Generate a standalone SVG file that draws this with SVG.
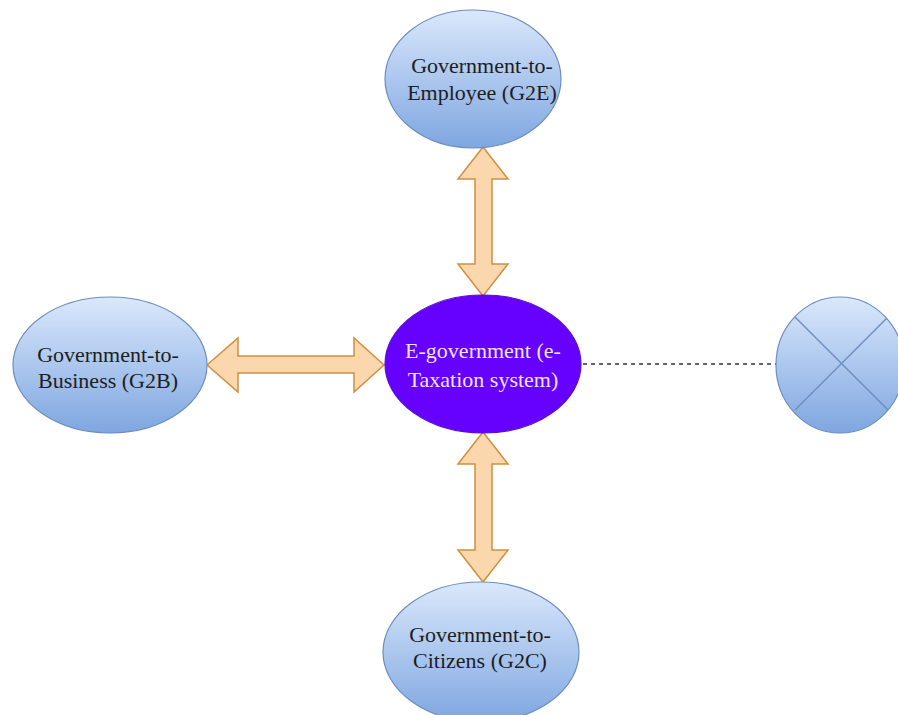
<svg xmlns="http://www.w3.org/2000/svg" width="898" height="715" viewBox="0 0 898 715">
  <defs>
    <linearGradient id="blueFill" x1="0" y1="0" x2="0" y2="1">
      <stop offset="0" stop-color="#dae8fc"/>
      <stop offset="1" stop-color="#7ea6e0"/>
    </linearGradient>
    <style>
      .blue { fill: url(#blueFill); stroke: #6c8ebf; stroke-width: 1.2; }
      .core { fill: #6600ff; stroke: #5a10d0; stroke-width: 1.2; }
      .lbl { font-family: "Liberation Serif", "Times New Roman", serif; font-size: 22px; fill: #1e1e1e; text-anchor: middle; }
      .lbl-w { font-family: "Liberation Serif", "Times New Roman", serif; font-size: 22px; fill: #eee6ff; text-anchor: middle; }
      .dbl { fill: #fad7ac; stroke: #d09040; stroke-width: 1.5; stroke-linejoin: miter; }
      .dash { stroke: #333333; stroke-width: 1.5; stroke-dasharray: 4 4; fill: none; }
      .cross { stroke: #6c8ebf; stroke-width: 1.5; fill: none; }
    </style>
  </defs>
  <rect width="898" height="715" fill="#ffffff"/>

  <!-- connectors: double arrows and the dashed link -->
  <g id="connectors">
    <polygon class="dbl" points="483,147 508,179 492,179 492,264 508,264 483,296 458,264 475,264 475,179 458,179"/>
    <polygon class="dbl" points="207,365 238,338 238,356 354,356 354,338 384,365 354,392 354,373 238,373 238,392"/>
    <polygon class="dbl" points="483,432 508,464 492,464 492,550 508,550 483,582 458,550 475,550 475,464 458,464"/>
    <line class="dash" x1="583" y1="364" x2="776" y2="364"/>
  </g>

  <g id="g2e">
    <ellipse class="blue" cx="473" cy="79" rx="88" ry="69"/>
    <text class="lbl" x="482" y="73">Government-to-</text>
    <text class="lbl" x="482" y="100">Employee (G2E)</text>
  </g>

  <g id="g2b">
    <ellipse class="blue" cx="110" cy="365" rx="97" ry="68"/>
    <text class="lbl" x="108" y="362">Government-to-</text>
    <text class="lbl" x="108" y="388">Business (G2B)</text>
  </g>

  <g id="egov">
    <ellipse class="core" cx="483" cy="364" rx="98" ry="69"/>
    <text class="lbl-w" x="483" y="358">E-government (e-</text>
    <text class="lbl-w" x="483" y="387">Taxation system)</text>
  </g>

  <g id="g2c">
    <ellipse class="blue" cx="481" cy="652" rx="98" ry="70"/>
    <text class="lbl" x="480" y="642">Government-to-</text>
    <text class="lbl" x="480" y="668">Citizens (G2C)</text>
  </g>

  <g id="terminator">
    <ellipse class="blue" cx="840" cy="365" rx="64" ry="68"/>
    <line class="cross" x1="795" y1="317" x2="888" y2="410"/>
    <line class="cross" x1="887" y1="318" x2="795" y2="410"/>
  </g>
</svg>
